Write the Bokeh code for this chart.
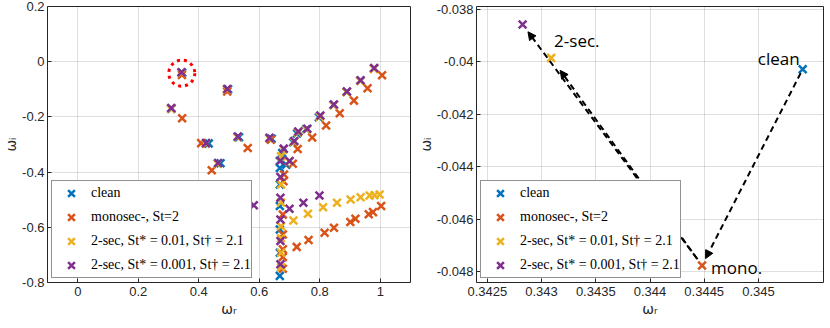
from bokeh.plotting import figure
from bokeh.layouts import row
from bokeh.models import (Range1d, FixedTicker, CustomJSTickFormatter,
                          Arrow, NormalHead)
from bokeh.core.properties import value
from bokeh.embed import file_html
from bokeh.resources import INLINE

# ---------------- data ----------------
# first element of each series = the circled (zoomed) eigenvalue
clean_x = [0.345408, 0.497, 0.310, 0.433, 0.472, 0.533, 0.641, 0.676, 0.689, 0.712, 0.725,
           0.755, 0.797, 0.845, 0.889, 0.934, 0.979,
           0.668, 0.668, 0.668, 0.668, 0.668, 0.668, 0.668]
clean_y = [-0.040286, -0.100, -0.170, -0.296, -0.368, -0.274, -0.279, -0.331, -0.373, -0.292, -0.260,
           -0.245, -0.201, -0.157, -0.109, -0.069, -0.025,
           -0.360, -0.445, -0.523, -0.608, -0.692, -0.776, -0.385]

mono_x = [0.34448, 0.494, 0.345, 0.408, 0.443, 0.562, 0.638, 0.727, 0.711, 0.775, 0.821,
          0.866, 0.913, 0.958, 1.006,
          0.724, 0.763, 0.816, 0.847, 0.901, 0.918, 0.962, 0.976, 1.003,
          0.682, 0.680, 0.678, 0.678, 0.678, 0.678, 0.678]
mono_y = [-0.047752, -0.108, -0.205, -0.295, -0.393, -0.313, -0.283, -0.316, -0.370, -0.275, -0.231,
          -0.187, -0.141, -0.096, -0.049,
          -0.671, -0.646, -0.620, -0.602, -0.581, -0.569, -0.553, -0.545, -0.523,
          -0.409, -0.433, -0.554, -0.626, -0.680, -0.708, -0.750]

sec01_x = [0.343088, 0.493, 0.308, 0.423, 0.462, 0.528, 0.633, 0.680, 0.699, 0.715, 0.728,
           0.757, 0.800, 0.846, 0.889, 0.934, 0.979, 0.408,
           0.713, 0.761, 0.811, 0.857, 0.902, 0.935, 0.965, 0.981, 0.998,
           0.672, 0.672, 0.672, 0.672, 0.672, 0.672, 0.672]
sec01_y = [-0.039855, -0.101, -0.171, -0.297, -0.370, -0.274, -0.278, -0.318, -0.362, -0.290, -0.256,
           -0.246, -0.199, -0.158, -0.111, -0.070, -0.026, -0.532,
           -0.575, -0.551, -0.527, -0.511, -0.499, -0.491, -0.485, -0.484, -0.481,
           -0.343, -0.445, -0.510, -0.596, -0.640, -0.692, -0.745]

sec001_x = [0.342825, 0.494, 0.309, 0.424, 0.464, 0.529, 0.634, 0.681, 0.700, 0.716, 0.729,
            0.759, 0.802, 0.847, 0.890, 0.935, 0.980, 0.582,
            0.700, 0.746, 0.799,
            0.670, 0.670, 0.670, 0.670, 0.670, 0.670]
sec001_y = [-0.038587, -0.099, -0.168, -0.295, -0.367, -0.271, -0.276, -0.315, -0.360, -0.287, -0.253,
            -0.243, -0.195, -0.155, -0.108, -0.067, -0.023, -0.520,
            -0.533, -0.511, -0.485,
            -0.359, -0.418, -0.493, -0.572, -0.650, -0.734]

labels = ["clean", "monosec-, St=2", "2-sec, St* = 0.01, St\u2020 = 2.1",
          "2-sec, St* = 0.001, St\u2020 = 2.1"]
colors = ["#0072BD", "#D95319", "#EDB120", "#7E2F8E"]

left_xticks = [0, 0.2, 0.4, 0.6, 0.8, 1]
left_yticks = [-0.8, -0.6, -0.4, -0.2, 0, 0.2]
right_xticks = [0.3425, 0.343, 0.3435, 0.344, 0.3445, 0.345]
right_yticks = [-0.048, -0.046, -0.044, -0.042, -0.04, -0.038]

series = [(clean_x, clean_y), (mono_x, mono_y), (sec01_x, sec01_y), (sec001_x, sec001_y)]

AX = "#262626"
fmt_code = "return Number(tick.toFixed(5)).toString();"


def style(p, xt, yt):
    p.background_fill_color = "white"
    p.border_fill_color = "white"
    p.outline_line_color = AX
    p.outline_line_width = 1
    p.xaxis.ticker = FixedTicker(ticks=xt)
    p.yaxis.ticker = FixedTicker(ticks=yt)
    p.xgrid.ticker = FixedTicker(ticks=xt)
    p.ygrid.ticker = FixedTicker(ticks=yt)
    for g in (p.xgrid, p.ygrid):
        g.grid_line_color = AX
        g.grid_line_alpha = 0.15
        g.grid_line_width = 1
    for ax in (p.xaxis, p.yaxis):
        ax.formatter = CustomJSTickFormatter(code=fmt_code)
        ax.axis_line_color = None
        ax.major_tick_in = 4
        ax.major_tick_out = 0
        ax.major_tick_line_color = AX
        ax.minor_tick_line_color = None
        ax.major_label_text_font = "Liberation Sans"
        ax.major_label_text_font_size = "13px"
        ax.major_label_text_color = AX
        ax.axis_label_text_font = "DejaVu Sans"
        ax.axis_label_text_font_size = "14px"
        ax.axis_label_text_font_style = "normal"
        ax.axis_label_text_color = AX
    p.xaxis.major_label_standoff = 4
    p.xaxis.axis_label_standoff = 2
    p.yaxis.major_label_standoff = 3
    p.yaxis.axis_label_standoff = 0
    p.xaxis.axis_label = "\u03c9\u1d63"
    p.yaxis.axis_label = "\u03c9\u1d62"


def style_legend(p):
    lg = p.legend[0]
    lg.location = "bottom_left"
    lg.margin = 4
    lg.padding = 0
    lg.spacing = -8
    lg.glyph_width = 38
    lg.glyph_height = 24
    lg.label_height = 24
    lg.label_standoff = 1
    lg.label_text_font = "Liberation Serif"
    lg.label_text_font_size = "14px"
    lg.label_text_color = "black"
    lg.border_line_color = AX
    lg.border_line_width = 1
    lg.background_fill_color = "white"
    lg.background_fill_alpha = 1.0


# ---------------- left panel ----------------
p1 = figure(frame_width=363, frame_height=276, x_range=Range1d(-0.1, 1.1),
            y_range=Range1d(-0.8, 0.2),
            output_backend="svg", toolbar_location=None,
            min_border_left=38, min_border_right=4, min_border_top=6, min_border_bottom=0)
for (xs, ys), c, lab in zip(series, colors, labels):
    p1.scatter(xs, ys, marker="x", size=11, line_width=2.5, line_color=c, legend_label=lab)
# highlight circle around the zoomed eigenvalue cluster
cx = [sum(s[0][0] for s in series) / 4]
cy = [sum(s[1][0] for s in series) / 4]
p1.scatter(cx, cy, marker="circle", size=26, fill_color=None, line_color="#FF0000",
           line_width=3, line_dash="3 4")
style(p1, left_xticks, left_yticks)
style_legend(p1)

# ---------------- right panel (zoom) ----------------
p2 = figure(frame_width=347, frame_height=276, x_range=Range1d(0.3424, 0.3456),
            y_range=Range1d(-0.0484, -0.0379),
            output_backend="svg", toolbar_location=None,
            min_border_left=58, min_border_right=2, min_border_top=6, min_border_bottom=0)
zx = [s[0][0] for s in series]
zy = [s[1][0] for s in series]

# dashed arrows: clean -> mono, mono -> 2-sec (0.01), mono -> 2-sec (0.001)
pairs = [(0, 1, 0.02, 0.965), (1, 2, 0.03, 0.94), (1, 3, 0.03, 0.97)]
for a, b, f0, f1 in pairs:
    x0 = zx[a] + f0 * (zx[b] - zx[a]); y0 = zy[a] + f0 * (zy[b] - zy[a])
    x1 = zx[a] + f1 * (zx[b] - zx[a]); y1 = zy[a] + f1 * (zy[b] - zy[a])
    p2.add_layout(Arrow(x_start=x0, y_start=y0, x_end=x1, y_end=y1,
                        line_color="black", line_width=2, line_dash="6 4",
                        end=NormalHead(size=8, fill_color="black", line_color="black",
                                       line_width=1)))

for i, (c, lab) in enumerate(zip(colors, labels)):
    p2.scatter([zx[i]], [zy[i]], marker="x", size=11, line_width=2.5, line_color=c,
               legend_label=lab)

note_font = value("Open Sans")
p2.text([zx[0]], [zy[0]], text=["clean"], x_offset=-24, y_offset=-11, text_align="center",
        text_baseline="middle", text_font=note_font, text_font_size="17px", text_color="black")
p2.text([zx[2]], [zy[2]], text=["2-sec."], x_offset=3, y_offset=-17, text_align="left",
        text_baseline="middle", text_font=note_font, text_font_size="17px", text_color="black")
p2.text([zx[1]], [zy[1]], text=["mono."], x_offset=9, y_offset=2, text_align="left",
        text_baseline="middle", text_font=note_font, text_font_size="17px", text_color="black")

style(p2, right_xticks, right_yticks)
style_legend(p2)

layout = row(p1, p2)
open("out.html", "w").write(file_html(layout, INLINE))
